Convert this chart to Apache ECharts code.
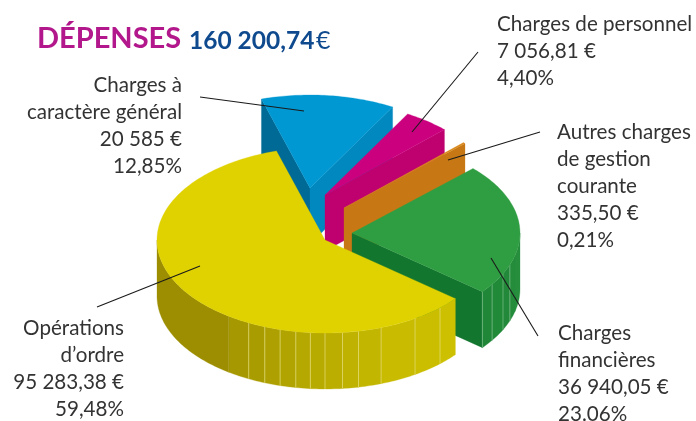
<!DOCTYPE html>
<html><head><meta charset="utf-8">
<style>html,body{margin:0;padding:0;background:#fff}#c{width:696px;height:421px}</style>
<script src="https://cdn.jsdelivr.net/npm/echarts@6/dist/echarts.min.js"></script>
</head><body><div id="c"></div>
<script>
const categories = ["Charges à caractère général","Charges de personnel","Autres charges de gestion courante","Charges financières","Opérations d'ordre"];
const values = [20585, 7056.81, 335.50, 36940.05, 95283.38];
const labelLines = [
  ["Charges à","caractère général","20 585 €","12,85%"],
  ["Charges de personnel","7 056,81 €","4,40%"],
  ["Autres charges","de gestion","courante","335,50 €","0,21%"],
  ["Charges","financières","36 940,05 €","23.06%"],
  ["Opérations","d’ordre","95 283,38 €","59,48%"]
];
const titleText = "DÉPENSES";
const totalText = "160 200,74";

const RX=168, RY=93, DEPTH=56, START=253.2;
const FONT='Lato';
const slices=[
 {off:[-15,-52],top:'#0098d3',cuts:[{at:0,c:'#006a96'},{at:1,c:'#0088bf'}]},
 {off:[0,-45],top:'#cb007f',cuts:[{at:1,c:'#bf006f'}]},
 {off:[19,-32],top:'#d98a1e',cuts:[{at:1,c:'#c77814'}]},
 {off:[27,-7],top:'#2f9e42',cuts:[{at:1,c:'#13762f'}],
  wall:[[39.1,'#1f8737'],[33.5,'#218a39'],[26,'#23893a'],[20,'#258c3c'],[14,'#268e3d'],[0,'#268e3d']]},
 {off:[0,0],top:'#e0d200',cuts:[],
  wall:[[39.1,'#cdc000'],[46.8,'#cbbe00'],[57.6,'#c8bb00'],[70.5,'#c3b600'],[78.5,'#bfb200'],[84,'#bbae00'],[90,'#b8ab00'],[95,'#b5a800'],[100,'#b1a400'],[105.5,'#ada000'],[111,'#a99c00'],[117,'#a59800'],[125,'#9c8e00'],[180,'#9c8e00']]}
];
const CX=325, CY=240;
const sum=values.reduce((a,b)=>a+b,0);
function pt(s,deg,dz){const r=deg*Math.PI/180;return [CX+s.off[0]+RX*Math.cos(r),CY+s.off[1]+RY*Math.sin(r)+(dz||0)];}
function poly(points,fill){return {type:'polygon',shape:{points},style:{fill,stroke:fill,lineWidth:0.3}};}
function renderItem(params,api){
  const i=params.dataIndex, s=slices[i];
  let a0=START; for(let k=0;k<i;k++)a0+=values[k]/sum*360;
  const a1=a0+api.value(0)/sum*360;
  const apex=[CX+s.off[0],CY+s.off[1]];
  const kids=[];
  s.cuts.forEach(c=>{
    const p=pt(s,c.at?a1:a0);
    kids.push(poly([apex,p,[p[0],p[1]+DEPTH],[apex[0],apex[1]+DEPTH]],c.c));
  });
  if(s.wall){
    for(let w=0;w<s.wall.length-1;w++){
      const from=s.wall[w][0], to=s.wall[w+1][0], pts=[], n=Math.max(2,Math.ceil(Math.abs(to-from)));
      for(let k=0;k<=n;k++)pts.push(pt(s,from+(to-from)*k/n));
      for(let k=n;k>=0;k--)pts.push(pt(s,from+(to-from)*k/n,DEPTH));
      kids.push(poly(pts,s.wall[w][1]));
      if(w>0 && w<s.wall.length-2 || (w===0 && i===3)){
        const q=pt(s,from);
        kids.push({type:'line',shape:{x1:q[0],y1:q[1],x2:q[0],y2:q[1]+DEPTH},style:{stroke:i===3?'#7fc08c':'#e6df7a',lineWidth:0.7}});
      }
    }
  }
  const top=[apex],n=Math.max(2,Math.ceil(a1-a0));
  for(let k=0;k<=n;k++)top.push(pt(s,a0+(a1-a0)*k/n));
  kids.push(poly(top,s.top));
  return {type:'group',children:kids};
}
const labelPos=[
 {x:182,y:85,align:'right'},{x:497,y:24,align:'left'},{x:557,y:132,align:'left'},{x:558,y:333,align:'left'},{x:124,y:328,align:'right'}
];
const leaders=[[[200,97],[304,111]],[[478,52],[412,132]],[[540,132],[448,160]],[[491,258],[538,336]],[[200,266],[97,307]]];
const graphic=[];
leaders.forEach(l=>graphic.push({type:'line',silent:true,z:20,shape:{x1:l[0][0],y1:l[0][1],x2:l[1][0],y2:l[1][1]},style:{stroke:'#1a1a1a',lineWidth:1.1}}));
labelLines.forEach((lines,i)=>lines.forEach((t,j)=>graphic.push({type:'text',silent:true,z:20,x:labelPos[i].x,y:labelPos[i].y+j*27,
  style:{text:t,align:labelPos[i].align,verticalAlign:'middle',font:'20.6px '+FONT,fill:'#333333'}})));
graphic.push({type:'text',x:37,y:39,style:{text:titleText,verticalAlign:'middle',font:'bold 29px '+FONT,fill:'#b2178c'}});
graphic.push({type:'text',x:189,y:41,style:{text:totalText,verticalAlign:'middle',font:'bold 24.5px '+FONT,fill:'#0f4a8e'}});
graphic.push({type:'text',x:316,y:41,style:{text:'€',verticalAlign:'middle',font:'25px '+FONT,fill:'#0f4a8e'}});
const chart=echarts.init(document.getElementById('c'),null,{renderer:'canvas'});
chart.setOption({animation:false,backgroundColor:'#fff',graphic,
  series:[{type:'custom',coordinateSystem:'none',silent:true,renderItem,data:values.map((v,i)=>({name:categories[i],value:[v]})),encode:{value:0}}]});
</script></body></html>
